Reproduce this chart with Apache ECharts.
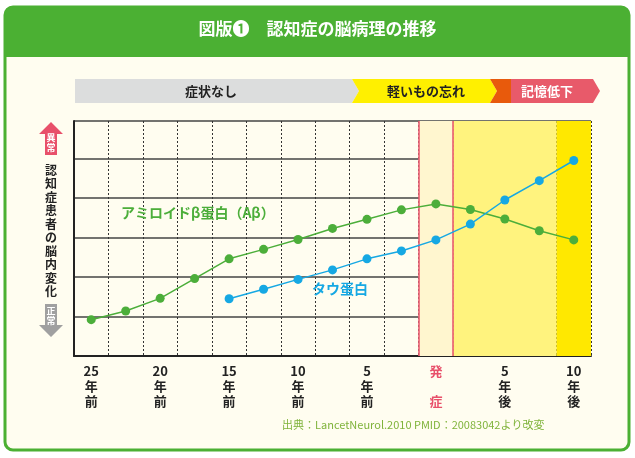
<!DOCTYPE html>
<html><head><meta charset="utf-8">
<script src="https://cdn.jsdelivr.net/npm/echarts@6/dist/echarts.min.js"></script>
<style>html,body{margin:0;padding:0;background:#fff;}#c{width:635px;height:458px;}</style>
</head><body><div id="c"></div>
<script>
'use strict';

const CATEGORIES = ['25\n年\n前', '', '20\n年\n前', '', '15\n年\n前', '', '10\n年\n前', '', '5\n年\n前', '', 'onset', '', '5\n年\n後', '', '10\n年\n後'];
const AMYLOID = [0.92, 1.14, 1.46, 1.96, 2.46, 2.70, 2.95, 3.23, 3.46, 3.70, 3.85, 3.71, 3.47, 3.17, 2.94];
const TAU = [null, null, null, null, 1.45, 1.69, 1.94, 2.18, 2.46, 2.66, 2.94, 3.34, 3.95, 4.44, 4.95];
const STAGES = ['症状なし', '軽いもの忘れ', '記憶低下'];

const FONT = '"Noto Sans CJK JP", sans-serif';
const GREEN = '#4cae3a';
const BLUE = '#16a8e3';

const toPairs = arr => arr.map((v, i) => [i, v]);

const chart = echarts.init(document.getElementById('c'));

const option = {
	backgroundColor: '#ffffff',
	textStyle: { fontFamily: FONT },
	animation: false,
	grid: { left: 74, right: 44, top: 121, bottom: 102 },
	xAxis: [{
		type: 'category',
		data: CATEGORIES,
		boundaryGap: true,
		axisLine: { onZero: false, lineStyle: { color: '#222', width: 2 } },
		axisTick: { show: false },
		splitLine: { show: true, lineStyle: { color: '#333', type: [2, 2], width: 1 } },
		axisLabel: {
			interval: 0, margin: 8, color: '#222', fontWeight: 'bold', fontSize: 13, lineHeight: 15,
			formatter: v => v === 'onset' ? '{r|発}\n\n{r|症}' : v,
			rich: { r: { color: '#e8506a', fontWeight: 'bold', fontSize: 13, lineHeight: 15 } }
		}
	}, {
		type: 'value', min: -0.5, max: 14.5, show: false
	}],
	yAxis: {
		type: 'value', min: 0, max: 5.95, interval: 1,
		axisLine: { show: true, onZero: false, lineStyle: { color: '#222', width: 2 } },
		axisTick: { show: false },
		axisLabel: { show: false },
		splitLine: { lineStyle: { color: '#444', width: 1.5 } }
	},
	series: [{
		type: 'line', xAxisIndex: 1, z: 1, data: [], silent: true,
		markArea: {
			silent: true,
			data: [
				[{ xAxis: 9.5, itemStyle: { color: '#fff6cf' } }, { xAxis: 10.5 }],
				[{ xAxis: 10.5, itemStyle: { color: '#fff37e' } }, { xAxis: 13.5 }],
				[{ xAxis: 13.5, itemStyle: { color: '#ffe800' } }, { xAxis: 14.5 }]
			]
		},
		markLine: {
			silent: true, symbol: 'none', label: { show: false },
			lineStyle: { color: '#e8506a', type: 'solid', width: 1.5 },
			data: [{ xAxis: 9.5 }, { xAxis: 10.5 }]
		}
	}, {
		name: 'amyloid', type: 'line', xAxisIndex: 1, data: toPairs(AMYLOID), z: 5,
		symbol: 'circle', symbolSize: 9, lineStyle: { color: GREEN, width: 1.5 }, itemStyle: { color: GREEN }
	}, {
		name: 'tau', type: 'line', xAxisIndex: 1, data: toPairs(TAU), z: 6,
		symbol: 'circle', symbolSize: 9, lineStyle: { color: BLUE, width: 1.5 }, itemStyle: { color: BLUE }
	}],
	graphic: [
		// frame
		{ type: 'rect', z: -10, shape: { x: 5, y: 7, width: 624, height: 443, r: 8 }, style: { fill: '#fffdf0', stroke: '#4bb033', lineWidth: 3 } },
		{ type: 'rect', z: -9, shape: { x: 5, y: 7, width: 624, height: 50, r: [8, 8, 0, 0] }, style: { fill: '#4bb033' } },
		{ type: 'text', z: 10, left: 'center', top: 20, style: { text: '図版❶　認知症の脳病理の推移', fill: '#fff', font: 'bold 17px ' + FONT } },
		// stage bar
		{ type: 'polygon', shape: { points: [[75, 79], [352, 79], [359, 91], [352, 103], [75, 103]] }, style: { fill: '#dcdddd' } },
		{ type: 'polygon', shape: { points: [[352, 79], [490, 79], [497, 91], [490, 103], [352, 103], [359, 91]] }, style: { fill: '#fff000' } },
		{ type: 'polygon', shape: { points: [[490, 79], [512, 79], [512, 103], [490, 103], [497, 91]] }, style: { fill: '#e85a0c' } },
		{ type: 'polygon', shape: { points: [[511, 79], [593, 79], [600, 91], [593, 103], [511, 103]] }, style: { fill: '#e85a6a' } },
		{ type: 'text', x: 211, y: 91, style: { text: STAGES[0], fill: '#222', font: 'bold 13px ' + FONT, align: 'center', verticalAlign: 'middle' } },
		{ type: 'text', x: 426, y: 91, style: { text: STAGES[1], fill: '#222', font: 'bold 13px ' + FONT, align: 'center', verticalAlign: 'middle' } },
		{ type: 'text', x: 547, y: 91, style: { text: STAGES[2], fill: '#fff', font: 'bold 13px ' + FONT, align: 'center', verticalAlign: 'middle' } },
		// y-axis arrows and caption
		{ type: 'polygon', shape: { points: [[51, 122], [63, 134], [57, 134], [57, 155], [45, 155], [45, 134], [39, 134]] }, style: { fill: '#e8506a' } },
		{ type: 'text', x: 51, y: 143, style: { text: '異\n常', fill: '#fff', font: 'bold 9px ' + FONT, lineHeight: 10, align: 'center', verticalAlign: 'middle' } },
		{ type: 'polygon', shape: { points: [[45, 304], [57, 304], [57, 325], [63, 325], [51, 337], [39, 325], [45, 325]] }, style: { fill: '#a0a0a0' } },
		{ type: 'text', x: 51, y: 316, style: { text: '正\n常', fill: '#fff', font: 'bold 9px ' + FONT, lineHeight: 10, align: 'center', verticalAlign: 'middle' } },
		{ type: 'text', x: 51, y: 231, style: { text: '認\n知\n症\n患\n者\nの\n脳\n内\n変\n化', fill: '#222', font: 'bold 12px ' + FONT, lineHeight: 13.5, align: 'center', verticalAlign: 'middle' } },
		// series labels
		{ type: 'text', z: 20, x: 121, y: 213, style: { text: 'アミロイドβ蛋白（Aβ）', fill: GREEN, font: 'bold 14px ' + FONT, verticalAlign: 'middle' } },
		{ type: 'text', z: 20, x: 312, y: 289, style: { text: 'タウ蛋白', fill: BLUE, font: 'bold 14px ' + FONT, verticalAlign: 'middle' } },
		// source
		{ type: 'text', x: 282, y: 425, style: { text: '出典：LancetNeurol.2010 PMID：20083042より改変', fill: '#7fb33a', font: '11px ' + FONT, verticalAlign: 'middle' } }
	]
};

chart.setOption(option);
</script></body></html>
